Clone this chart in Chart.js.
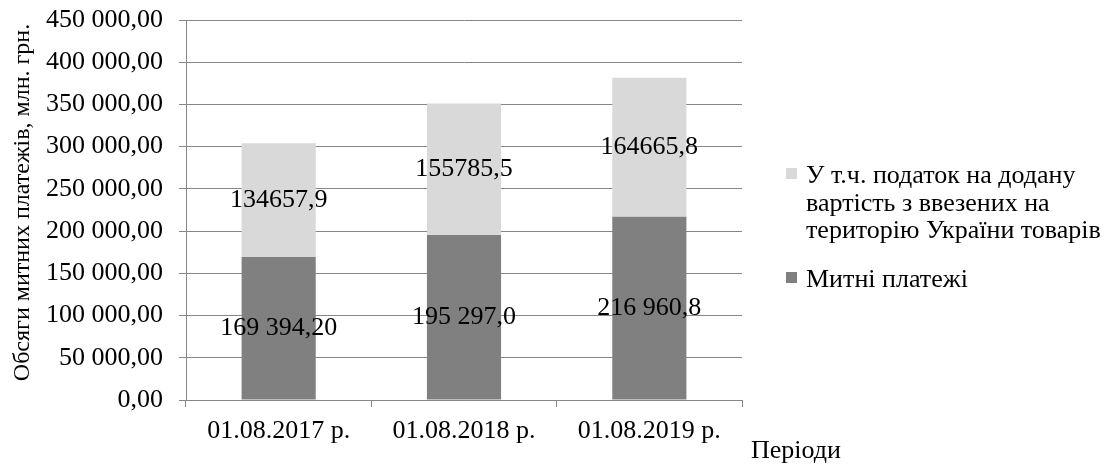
<!DOCTYPE html>
<html lang="uk">
<head>
<meta charset="utf-8">
<title>Обсяги митних платежів</title>
<script src="https://cdn.jsdelivr.net/npm/chart.js@4.4.1/dist/chart.umd.min.js"></script>
<style>
  html, body { margin: 0; padding: 0; background: #ffffff; }
  #wrap { width: 1117px; height: 466px; }
</style>
</head>
<body>
<div id="wrap"><canvas id="chart" width="1117" height="466"></canvas></div>
<script>
// Periods on the category axis
const periods = ['01.08.2017 р.', '01.08.2018 р.', '01.08.2019 р.'];

// Customs payments, mln UAH (bottom segment)
const customsPayments = [169394.2, 195297.0, 216960.8];
const customsLabels = ['169 394,20', '195 297,0', '216 960,8'];

// VAT on goods imported into Ukraine, mln UAH (top segment)
const vatOnImports = [134657.9, 155785.5, 164665.8];
const vatLabels = ['134657,9', '155785,5', '164665,8'];

const seriesNames = [
  'Митні платежі',
  'У т.ч. податок на додану вартість з ввезених на територію України товарів'
];
const yTitle = 'Обсяги митних платежів, млн. грн.';
const xTitle = 'Періоди';

const FONT = "'Liberation Serif', 'Times New Roman', serif";
const FONT_SIZE = 26;
const TITLE_SIZE = 24;
const GRID = '#868686';

// "450 000,00" style: space-grouped thousands, comma decimals
function fmtAxis(v) {
  const parts = Number(v).toFixed(2).split('.');
  const intPart = parts[0].replace(/\B(?=(\d{3})+(?!\d))/g, ' ');
  return intPart + ',' + parts[1];
}

// Value labels centred inside every bar segment
const segmentLabels = {
  id: 'segmentLabels',
  afterDatasetsDraw(chart) {
    const ctx = chart.ctx;
    ctx.save();
    ctx.font = FONT_SIZE + 'px ' + FONT;
    ctx.fillStyle = '#000000';
    ctx.textAlign = 'center';
    ctx.textBaseline = 'middle';
    chart.data.datasets.forEach((ds, di) => {
      const meta = chart.getDatasetMeta(di);
      meta.data.forEach((bar, i) => {
        const p = bar.getCenterPoint();
        ctx.fillText(ds.valueLabels[i], p.x, p.y);
      });
    });
    ctx.restore();
  }
};

// Right-hand legend with wrapped text, plus both axis titles
const sideLegend = {
  id: 'sideLegend',
  afterDraw(chart) {
    const ctx = chart.ctx;
    const area = chart.chartArea;
    ctx.save();
    ctx.font = FONT_SIZE + 'px ' + FONT;
    ctx.fillStyle = '#000000';
    ctx.textBaseline = 'alphabetic';
    ctx.textAlign = 'left';

    const boxX = area.right + 44;
    const textX = area.right + 64;
    const maxW = chart.width - textX - 2;
    const lineGap = 27.5;
    let baseline = 183;

    const order = chart.data.datasets.map((d, i) => i).reverse();
    order.forEach((di) => {
      const ds = chart.data.datasets[di];
      // wrap label words to the available width
      const words = ds.label.split(' ');
      const lines = [];
      let cur = '';
      words.forEach(w => {
        const test = cur ? cur + ' ' + w : w;
        if (cur && ctx.measureText(test).width > maxW) {
          lines.push(cur);
          cur = w;
        } else {
          cur = test;
        }
      });
      if (cur) lines.push(cur);

      ctx.fillStyle = ds.backgroundColor;
      ctx.fillRect(boxX, baseline - 15, 11, 11);
      ctx.fillStyle = '#000000';
      lines.forEach((ln, k) => {
        ctx.fillText(ln, textX, baseline + k * lineGap);
      });
      baseline += (lines.length - 1) * lineGap + 49;
    });

    // category axis title, below the legend
    ctx.textAlign = 'center';
    ctx.textBaseline = 'middle';
    ctx.fillText(xTitle, area.right + 54, 451);

    // value axis title, rotated
    ctx.font = TITLE_SIZE + 'px ' + FONT;
    ctx.translate(29, (area.top + area.bottom) / 2 - 7.5);
    ctx.rotate(-Math.PI / 2);
    ctx.textAlign = 'center';
    ctx.textBaseline = 'alphabetic';
    ctx.fillText(yTitle, 0, 0);
    ctx.restore();
  }
};

new Chart(document.getElementById('chart'), {
  type: 'bar',
  data: {
    labels: periods,
    datasets: [
      {
        label: seriesNames[0],
        data: customsPayments,
        valueLabels: customsLabels,
        backgroundColor: '#808080',
        borderWidth: 0
      },
      {
        label: seriesNames[1],
        data: vatOnImports,
        valueLabels: vatLabels,
        backgroundColor: '#d9d9d9',
        borderWidth: 0
      }
    ]
  },
  options: {
    responsive: false,
    animation: false,
    maintainAspectRatio: false,
    layout: { padding: { top: 20, right: 375, left: 0, bottom: 0 } },
    datasets: { bar: { barPercentage: 0.4, categoryPercentage: 1.0 } },
    plugins: {
      legend: { display: false },
      tooltip: { enabled: false },
      title: { display: false }
    },
    scales: {
      x: {
        stacked: true,
        offset: true,
        grid: {
          offset: true,
          drawOnChartArea: false,
          drawTicks: true,
          tickLength: 7,
          color: GRID,
          lineWidth: 1
        },
        border: { color: GRID, width: 1 },
        ticks: {
          color: '#000000',
          padding: 9,
          maxRotation: 0,
          font: { family: FONT, size: FONT_SIZE }
        },
        afterFit(scale) { scale.height = 66; scale.paddingLeft = 0; scale.paddingRight = 0; }
      },
      y: {
        stacked: true,
        min: 0,
        max: 450000,
        grid: {
          color: GRID,
          lineWidth: 1,
          drawTicks: true,
          tickLength: 7
        },
        border: { color: GRID, width: 1 },
        ticks: {
          stepSize: 50000,
          color: '#000000',
          padding: 16,
          font: { family: FONT, size: FONT_SIZE },
          callback: v => fmtAxis(v)
        },
        afterFit(scale) { scale.width = 186; scale.paddingTop = 0; scale.paddingBottom = 0; }
      }
    }
  },
  plugins: [segmentLabels, sideLegend]
});
</script>
</body>
</html>
